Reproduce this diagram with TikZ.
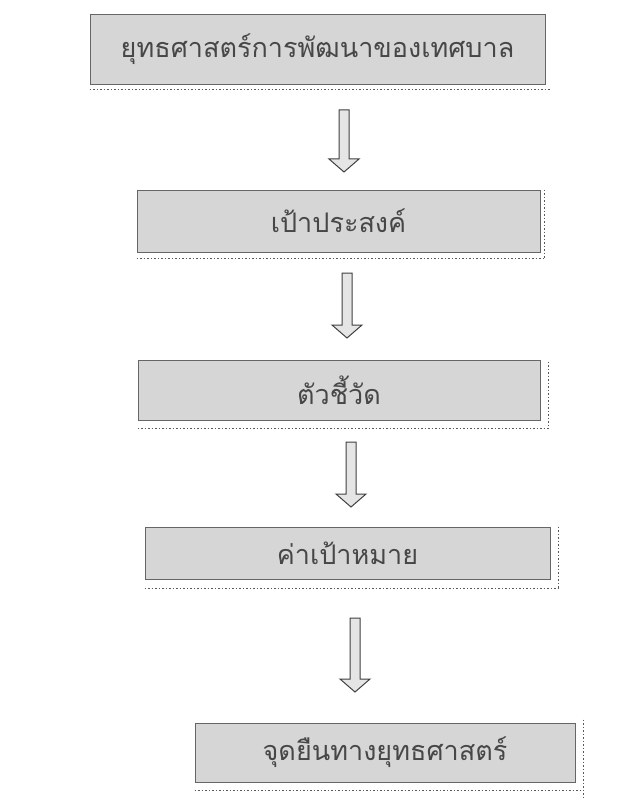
\documentclass[tikz,border=0pt]{standalone}
\usepackage{fontspec}
\newfontfamily\thaifont[Script=Thai]{Loma}
\usetikzlibrary{calc}
\tikzset{
  box/.style={draw=black!60, line width=0.9pt, fill=black!16, inner sep=0pt,
    font=\thaifont\fontsize{27}{31}\selectfont, text=black!72},
  dotline/.style={draw=black!65, line width=1.1pt, dash pattern=on 1.5pt off 2pt},
  arrowstyle/.style={draw=black!75, line width=1pt, fill=black!10, line join=miter}
}
\newcommand{\blockarrow}[2]{%
  \draw[arrowstyle] let \p1=(#1), \p2=(#2) in
    (\x1-5pt,\y1) -- (\x1-5pt,\y2+13pt) -- (\x1-15pt,\y2+13pt) -- (\x1,\y2)
    -- (\x1+15pt,\y2+13pt) -- (\x1+5pt,\y2+13pt) -- (\x1+5pt,\y1) -- cycle;}
\begin{document}
\begin{tikzpicture}[x=1pt,y=-1pt]
\path[use as bounding box, fill=white] (0,0) rectangle (620,799);

\node[box, minimum width=455pt, minimum height=70pt] (b1) at (317.5,49) {ยุทธศาสตร์การพัฒนาของเทศบาล};
\node[box, minimum width=403pt, minimum height=62pt] (b2) at (338.5,221) {เป้าประสงค์};
\node[box, minimum width=402pt, minimum height=60pt] (b3) at (339,390) {ตัวชี้วัด};
\node[box, minimum width=405pt, minimum height=52pt] (b4) at (347.5,553) {ค่าเป้าหมาย};
\node[box, minimum width=380pt, minimum height=59pt] (b5) at (385,752.5) {จุดยืนทางยุทธศาสตร์};

% dotted shadow lines
\draw[dotline] ([yshift=-5pt]b1.south west) -- ([xshift=6pt,yshift=-5pt]b1.south east);
\draw[dotline] ([yshift=-6pt]b2.south west) -- ([xshift=4pt,yshift=-6pt]b2.south east);
\draw[dotline] ([xshift=4pt]b2.north east) -- ([xshift=4pt,yshift=-6pt]b2.south east);
\draw[dotline] ([yshift=-8pt]b3.south west) -- ([xshift=8pt,yshift=-8pt]b3.south east);
\draw[dotline] ([xshift=8pt,yshift=-2pt]b3.north east) -- ([xshift=8pt,yshift=-8pt]b3.south east);
\draw[dotline] ([yshift=-9pt]b4.south west) -- ([xshift=8pt,yshift=-9pt]b4.south east);
\draw[dotline] ([xshift=8pt]b4.north east) -- ([xshift=8pt,yshift=-9pt]b4.south east);
\draw[dotline] ([yshift=-8pt]b5.south west) -- ([xshift=8pt,yshift=-8pt]b5.south east);
\draw[dotline] ([xshift=8pt,yshift=3pt]b5.north east) -- ([xshift=8pt,yshift=-17pt]b5.south east);

% arrows
\coordinate (a1s) at (344,110); \coordinate (a1e) at (344,172);
\coordinate (a2s) at (347,273); \coordinate (a2e) at (347,338);
\coordinate (a3s) at (351,442); \coordinate (a3e) at (351,507);
\coordinate (a4s) at (355,618); \coordinate (a4e) at (355,692);
\blockarrow{a1s}{a1e}
\blockarrow{a2s}{a2e}
\blockarrow{a3s}{a3e}
\blockarrow{a4s}{a4e}
\end{tikzpicture}
\end{document}
